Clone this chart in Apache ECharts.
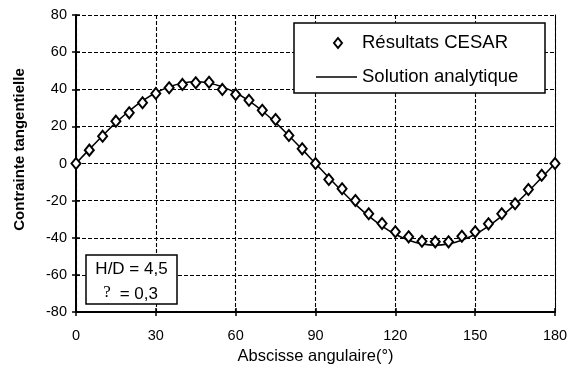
<!DOCTYPE html>
<html>
<head>
<meta charset="utf-8">
<script src="https://cdn.jsdelivr.net/npm/echarts@6/dist/echarts.min.js"></script>
<style>html,body{margin:0;padding:0;background:#fff;}#c{width:574px;height:372px;}</style>
</head>
<body>
<div id="c"></div>
<script>
var angles = [0,5,10,15,20,25,30,35,40,45,50,55,60,65,70,75,80,85,90,95,100,105,110,115,120,125,130,135,140,145,150,155,160,165,170,175,180];
var cesar = [0,7.2,14.7,22.8,27.3,32.7,37.7,40.8,42.6,43.5,43.8,39.9,37.2,34.1,28.7,23.7,15.1,7.9,0,-8.6,-13.6,-19.9,-27.1,-32.3,-36.8,-39.5,-41.9,-42.2,-42.2,-39.2,-36.8,-32.5,-27.1,-21.7,-14,-6.3,0];
var analytic = [0,7.6,15.0,22.0,28.3,33.7,38.1,41.3,43.3,44.0,43.3,41.3,38.1,33.7,28.3,22.0,15.0,7.6,0,-7.6,-15.0,-22.0,-28.3,-33.7,-38.1,-41.3,-43.3,-44.0,-43.3,-41.3,-38.1,-33.7,-28.3,-22.0,-15.0,-7.6,0];
var xTicks = [0,30,60,90,120,150,180];
var yTicks = [-80,-60,-40,-20,0,20,40,60,80];
var seriesNames = ['Résultats CESAR','Solution analytique'];
var noteLines = ['H/D = 4,5', '? = 0,3'];
var xTitle = 'Abscisse angulaire(°)';
var yTitle = 'Contrainte tangentielle';

var FONT = "'Liberation Sans', Arial, sans-serif";
var chart = echarts.init(document.getElementById('c'));
function pairs(v){ return angles.map(function(a,i){ return [a, v[i]]; }); }
var xMin = xTicks[0], xMax = xTicks[xTicks.length-1], xInt = xTicks[1]-xTicks[0];
var yMin = yTicks[0], yMax = yTicks[yTicks.length-1], yInt = yTicks[1]-yTicks[0];
var dash = {type:[4,2], color:'#000', width:1.1};

chart.setOption({
  animation:false,
  backgroundColor:'#fff',
  grid:{left:76, right:19, top:15, bottom:60, containLabel:false},
  xAxis:[{
    type:'value', min:xMin, max:xMax, interval:xInt, position:'bottom',
    name:xTitle, nameLocation:'middle', nameGap:36,
    nameTextStyle:{fontFamily:FONT, fontSize:16.5, color:'#000'},
    axisLine:{show:true, onZero:false, lineStyle:{color:'#000', width:2}},
    axisTick:{show:true, inside:false, length:4, lineStyle:{color:'#000', width:1.5}},
    axisLabel:{fontFamily:FONT, fontSize:14.5, color:'#000', margin:16},
    splitLine:{show:true, lineStyle:dash}
  },{
    type:'value', min:xMin, max:xMax, interval:xInt, position:'bottom',
    axisLine:{show:false, onZero:false},
    axisTick:{show:true, inside:true, length:4, lineStyle:{color:'#000', width:1.5}},
    axisLabel:{show:false}, splitLine:{show:false}
  }],
  yAxis:[{
    type:'value', min:yMin, max:yMax, interval:yInt, position:'left',
    name:yTitle, nameLocation:'middle', nameGap:49,
    nameTextStyle:{fontFamily:FONT, fontSize:15, fontWeight:'bold', color:'#000', padding:[0,0,0,28]},
    axisLine:{show:true, onZero:false, lineStyle:{color:'#000', width:2}},
    axisTick:{show:true, inside:false, length:4, lineStyle:{color:'#000', width:1.5}},
    axisLabel:{fontFamily:FONT, fontSize:14.5, color:'#000', margin:9},
    splitLine:{show:true, lineStyle:dash}
  },{
    type:'value', min:yMin, max:yMax, interval:yInt, position:'left',
    axisLine:{show:false, onZero:false},
    axisTick:{show:true, inside:true, length:4, lineStyle:{color:'#000', width:1.5}},
    axisLabel:{show:false}, splitLine:{show:false}
  },{
    type:'value', min:yMin, max:yMax, interval:yInt, position:'right',
    axisLine:{show:true, onZero:false, lineStyle:{color:'#000', width:1}},
    axisTick:{show:false}, axisLabel:{show:false}, splitLine:{show:false}
  }],
  legend:[{
    data:[{name:seriesNames[0], icon:'diamond'}],
    left:333, top:32, padding:0, itemWidth:8, itemHeight:10, selectedMode:false,
    itemStyle:{color:'#fff', borderColor:'#000', borderWidth:2, opacity:1},
    textStyle:{fontFamily:FONT, fontSize:18.5, color:'#000', lineHeight:22, padding:[0,0,0,15]}
  },{
    data:[{name:seriesNames[1], icon:'rect'}],
    left:316, top:66, padding:0, itemWidth:41, itemHeight:1.5, selectedMode:false,
    itemStyle:{color:'#000', borderWidth:0, opacity:1},
    textStyle:{fontFamily:FONT, fontSize:18.5, color:'#000', lineHeight:22}
  }],
  graphic:[
    {type:'rect', z:3, shape:{x:294, y:23, width:251, height:70}, style:{fill:'#fff', stroke:'#000', lineWidth:1.5}},
    {type:'rect', z:3, shape:{x:86, y:255, width:91, height:49}, style:{fill:'#fff', stroke:'#000', lineWidth:1.5}},
    {type:'text', z:4, style:{text:noteLines[0], x:131.5, y:269, textAlign:'center', textVerticalAlign:'middle', font:"17px 'Liberation Sans', Arial, sans-serif", fill:'#000'}},
    {type:'text', z:4, style:{text:noteLines[1].charAt(0), x:107, y:293, textAlign:'center', textVerticalAlign:'middle', font:"17px 'Liberation Serif', 'Times New Roman', serif", fill:'#000'}},
    {type:'text', z:4, style:{text:noteLines[1].slice(1), x:115, y:294, textAlign:'left', textVerticalAlign:'middle', font:"17px 'Liberation Sans', Arial, sans-serif", fill:'#000'}}
  ],
  series:[{
    name:seriesNames[1], type:'line', xAxisIndex:0, yAxisIndex:0,
    data:pairs(analytic), smooth:true, showSymbol:false, symbol:'none', z:2,
    lineStyle:{color:'#000', width:1.5}, itemStyle:{color:'#000'}
  },{
    name:seriesNames[0], type:'scatter', xAxisIndex:0, yAxisIndex:0,
    data:pairs(cesar), symbol:'diamond', symbolSize:[9,11], z:3,
    itemStyle:{color:'#fff', borderColor:'#000', borderWidth:2, opacity:1}
  }]
});
</script>
</body>
</html>
